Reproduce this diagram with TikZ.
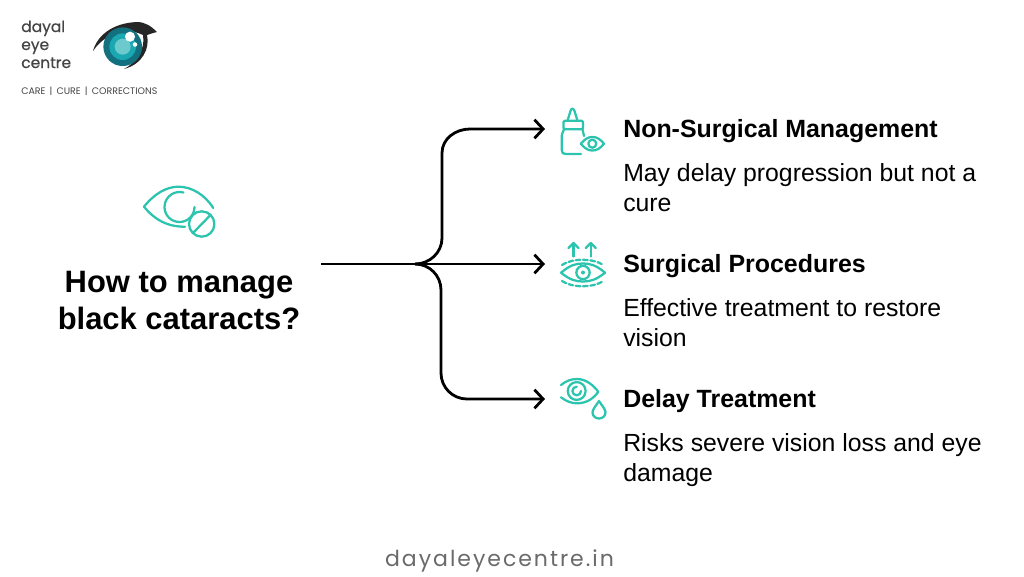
\documentclass[tikz,border=0pt]{standalone}
\usepackage{fontspec}
\usetikzlibrary{positioning}
\usetikzlibrary{arrows.meta}
\setmainfont{Liberation Sans}
\newfontfamily\brandfont[FakeBold=0.6]{Poppins}
\newfontfamily\tagfont{Poppins}
\newfontfamily\sitefont[LetterSpace=9]{Poppins}
\definecolor{iconteal}{HTML}{2CC4AE}
\definecolor{inkgrey}{HTML}{444444}
\definecolor{sitegrey}{HTML}{6A6A6A}
\definecolor{irisdark}{HTML}{12707F}
\definecolor{irismid}{HTML}{1AA7B2}
\definecolor{irislight}{HTML}{6CCACC}
\begin{document}
\begin{tikzpicture}[x=.75pt,y=-.75pt]
	\tikzset{heading/.style = {anchor=base west,inner sep=0pt,font=\fontsize{18.7}{22.5}\selectfont\bfseries}}
	\tikzset{detail/.style = {anchor=north west,inner sep=0pt,align=left,font=\fontsize{18.6}{22.2}\selectfont}}
	\tikzset{brand/.style = {anchor=base west,inner sep=0pt,text=inkgrey,font=\fontsize{11.6}{13}\brandfont}}
	\tikzset{flow/.style = {line width=2.1pt,-{Straight Barb[length=6.5pt,width=14pt,line width=2.1pt]}}}
	\tikzset{icon/.style = {draw=iconteal,line width=1.7pt,line cap=round,line join=round}}
	\useasboundingbox (0,0) rectangle (1024,576);

	\node[brand] (brandA) at (21,32) {dayal};
	\node[brand] (brandB) at (21,50) {eye};
	\node[brand] (brandC) at (21,68) {centre};
	\node[anchor=base west,inner sep=0pt,text=inkgrey,font=\fontsize{7.1}{8}\tagfont] (tagline) at (21,94) {CARE \,|\, CURE \,|\, CORRECTIONS};

	\fill[black!85] (93,51) .. controls (97,36) and (112,23) .. (137,22) .. controls (145,22) and (151,26) .. (157,32) .. controls (153,33) and (150,34) .. (147,35) .. controls (150,48) and (143,64) .. (124,69) .. controls (134,64) and (146,50) .. (143,35) .. controls (132,29) and (108,29) .. (93,51) -- cycle;
	\fill[irisdark] (122.7,46.7) circle (14.5pt);
	\fill[irismid] (122.7,46.7) circle (10pt);
	\fill[irislight] (122.7,46.7) circle (6pt);
	\fill[white] (130,36.7) circle (3.8pt);
	\fill[white] (135,44.5) circle (1.7pt);

	\draw[icon] (144,206.7) .. controls (155,193) and (167,186.7) .. (178.5,186.7) .. controls (192,186.7) and (205,195) .. (213.3,208);
	\draw[icon] (144,206.7) .. controls (155,220) and (167,226.7) .. (185,226.7);
	\draw[icon] (194.5,207) arc (0:285:15);
	\draw[icon] (201.7,224) circle (9.5pt);
	\draw[icon] (193,233) -- (210.5,215);

	\node[anchor=base,inner sep=0pt,align=center,font=\fontsize{23.2}{27.75}\selectfont\bfseries] (question) at (179,329) {How to manage\\black cataracts?};

	\coordinate (stem) at (321,264);
	\coordinate (hub) at (415,264);
	\coordinate (tipA) at (545,129);
	\coordinate (tipB) at (545,264);
	\coordinate (tipC) at (545,399);
	\draw[flow] (stem) -- (tipB);
	\draw[flow] (hub) to[out=0,in=-90] (442,238) -- (442,153) to[out=90,in=180] (470,129) -- (tipA);
	\draw[flow] (hub) to[out=0,in=90] (441,290) -- (441,373) to[out=-90,in=180] (467,399) -- (tipC);

	\draw[icon] (567.5,120.7) -- (570.5,111) .. controls (571,108) and (573.5,108) .. (574.5,111) -- (577.5,120.7);
	\draw[icon,rounded corners=1pt] (563.5,120.7) rectangle (583,129.3);
	\draw[icon] (564,129.3) .. controls (562.5,133) and (561.7,134) .. (561.7,138) -- (561.7,150) .. controls (561.7,153) and (563,154) .. (566,154) -- (581,154);
	\draw[icon] (582.5,129.3) -- (584,136);
	\draw[icon] (580.7,143.7) .. controls (585,139) and (588,137) .. (592.3,137) .. controls (597,137) and (600,139) .. (604,143.7) .. controls (600,148.5) and (597,150.5) .. (592.3,150.5) .. controls (588,150.5) and (585,148.5) .. (580.7,143.7) -- cycle;
	\draw[icon] (592.3,143.7) circle (3pt);

	\draw[icon] (573.5,256.5) -- (573.5,243.5);
	\draw[icon] (568.5,248) -- (573.5,243) -- (578.5,248);
	\draw[icon] (590.7,256.5) -- (590.7,243.5);
	\draw[icon] (585.7,248) -- (590.7,243) -- (595.7,248);
	\draw[icon,dashed,dash pattern=on 3.5pt off 2pt] (562,265) .. controls (572,258) and (593,258) .. (603.5,265);
	\draw[icon,dashed,dash pattern=on 3.5pt off 2pt] (562,281) .. controls (572,288) and (593,288) .. (603.5,281);
	\draw[icon] (561,272.7) .. controls (570,265) and (576,263.5) .. (583,263.5) .. controls (590,263.5) and (596,265) .. (605,272.7) .. controls (596,280) and (590,281.5) .. (583,281.5) .. controls (576,281.5) and (570,280) .. (561,272.7) -- cycle;
	\draw[icon] (583,272.5) circle (5pt);
	\fill[iconteal] (583,272.5) circle (1.5pt);

	\draw[icon] (561,385) .. controls (566,381) and (571,379) .. (577,379) .. controls (586,379) and (593,385) .. (598.3,391.7) .. controls (594,398) and (587,403.3) .. (577,403.3) .. controls (571,403.3) and (566,401) .. (561,397.3);
	\draw[icon] (576.7,391) circle (6.7pt);
	\draw[icon] (581,391) arc (0:270:4.3);
	\draw[icon] (599,401) .. controls (595,407) and (592.5,409.5) .. (592.5,412.5) .. controls (592.5,416) and (595.5,418.5) .. (599,418.5) .. controls (602.5,418.5) and (605.5,416) .. (605.5,412.5) .. controls (605.5,409.5) and (603,407) .. (599,401) -- cycle;

	\node[heading] (headA) at (623,137) {Non-Surgical Management};
	\node[detail,below=20pt of headA.base west,anchor=north west] (detailA) {May delay progression but not a\\cure};
	\node[heading] (headB) at (623,272) {Surgical Procedures};
	\node[detail,below=20pt of headB.base west,anchor=north west] (detailB) {Effective treatment to restore\\vision};
	\node[heading] (headC) at (623,407) {Delay Treatment};
	\node[detail,below=20pt of headC.base west,anchor=north west] (detailC) {Risks severe vision loss and eye\\damage};

	\node[anchor=base,inner sep=0pt,text=sitegrey,font=\fontsize{16.5}{20}\sitefont] (site) at (499.5,566) {dayaleyecentre.in};
\end{tikzpicture}
\end{document}
